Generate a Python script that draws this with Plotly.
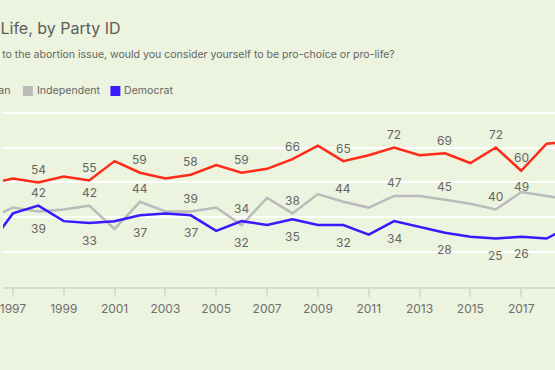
import plotly.graph_objects as go

# ---- data ----
years = list(range(1996, 2020))
republican = [53, 56, 54, 57, 55, 65, 59, 56, 58, 63, 59, 61, 66, 73, 65, 68, 72, 68, 69, 64, 72, 60, 74, 75]
independent = [35, 41, 39, 40, 42, 30, 44, 39, 39, 41, 32, 46, 38, 48, 44, 41, 47, 47, 45, 43, 40, 49, 47, 45]
democrat = [20, 38, 42, 34, 33, 34, 37, 38, 37, 29, 34, 32, 35, 32, 32, 27, 34, 31, 28, 26, 25, 26, 25, 32]
label_years = [1998, 2000, 2002, 2004, 2006, 2008, 2010, 2012, 2014, 2016, 2017]
tick_years = [1997, 1999, 2001, 2003, 2005, 2007, 2009, 2011, 2013, 2015, 2017]
grid_values = [18, 36, 54, 72, 90]

series_names = ["Republican", "Independent", "Democrat"]
series_colors = ["#FF2A17", "#BBBBBB", "#3A19FF"]

title_text = "Percentage Identifying as Pro-Life, by Party ID"
subtitle_text = "With respect to the abortion issue, would you consider yourself to be pro-choice or pro-life?"

BG = "#ECF3DE"
TXT = "#666666"
FONT = "Inter"

W, H = 555, 370
M_T, M_B = 103, 83
PLOT_H = H - M_T - M_B


def py(pixel_y):
    """pixel y (from top) -> paper y"""
    return (H - M_B - pixel_y) / PLOT_H


def px(pixel_x):
    return pixel_x / W


fig = go.Figure()
for name, vals, col in zip(series_names, [republican, independent, democrat], series_colors):
    fig.add_trace(go.Scatter(x=years, y=vals, mode="lines", name=name,
                             line=dict(color=col, width=2.5), hoverinfo="skip"))

annotations = []
# data labels
for yr in label_years:
    i = years.index(yr)
    r, ind, d = republican[i], independent[i], democrat[i]
    annotations.append(dict(x=yr, y=r, xref="x", yref="y", text=str(r), showarrow=False,
                            yshift=13, font=dict(size=12, color=TXT, family=FONT)))
    upper, lower = (ind, d) if ind >= d else (d, ind)
    up_shift = 6 if yr == 2017 else 13
    annotations.append(dict(x=yr, y=upper, xref="x", yref="y", text=str(upper), showarrow=False,
                            yshift=up_shift, font=dict(size=12, color=TXT, family=FONT)))
    annotations.append(dict(x=yr, y=lower, xref="x", yref="y", text=str(lower), showarrow=False,
                            yshift=-17, font=dict(size=12, color=TXT, family=FONT)))

# title, subtitle (clipped on the left like the reference)
annotations.append(dict(x=px(121), y=py(28), xref="paper", yref="paper", xanchor="right",
                        yanchor="middle", text=title_text, showarrow=False,
                        font=dict(size=16, color="#5c5c5c", family=FONT)))
annotations.append(dict(x=px(396), y=py(55), xref="paper", yref="paper", xanchor="right",
                        yanchor="middle", text=subtitle_text, showarrow=False,
                        font=dict(size=10.55, color=TXT, family=FONT)))

# legend
shapes = []
legend_items = [("Republican", series_colors[0], None),
                ("Independent", series_colors[1], 20),
                ("Democrat", series_colors[2], 108)]
for name, col, sq_x in legend_items:
    if sq_x is None:
        annotations.append(dict(x=px(10), y=py(90.5), xref="paper", yref="paper",
                                xanchor="right", yanchor="middle", text=name, showarrow=False,
                                font=dict(size=10.6, color=TXT, family=FONT)))
    else:
        annotations.append(dict(x=px(sq_x + 12), y=py(90.5), xref="paper", yref="paper",
                                xanchor="left", yanchor="middle", text=name, showarrow=False,
                                font=dict(size=10.6, color=TXT, family=FONT)))
        shapes.append(dict(type="rect", xref="paper", yref="paper",
                           x0=px(sq_x), x1=px(sq_x + 10), y0=py(96), y1=py(86),
                           fillcolor=col, line=dict(width=0)))

fig.update_layout(
    width=W, height=H,
    margin=dict(l=0, r=0, t=M_T, b=M_B, pad=0),
    paper_bgcolor=BG, plot_bgcolor=BG,
    showlegend=False,
    annotations=annotations,
    shapes=shapes,
    font=dict(family=FONT, color=TXT),
    xaxis=dict(range=[1996.61, 2018.33], tickvals=tick_years, ticktext=[str(t) for t in tick_years],
               ticks="outside", ticklen=8, tickwidth=2, tickcolor="#d8dbd3",
               showline=True, linecolor="#d8dbd3", linewidth=2,
               showgrid=False, zeroline=False, ticklabeloverflow="allow",
               ticklabelstandoff=2,
               tickfont=dict(size=12, color="#6f6f6f", family=FONT), fixedrange=True),
    yaxis=dict(range=[0, 95], tickvals=grid_values, showticklabels=False,
               showgrid=True, gridcolor="white", gridwidth=2,
               zeroline=False, showline=False, fixedrange=True),
)

fig.write_html("out.html", config={"displayModeBar": False},
               post_script="document.body.style.margin='0';document.body.style.background='" + BG + "';")
